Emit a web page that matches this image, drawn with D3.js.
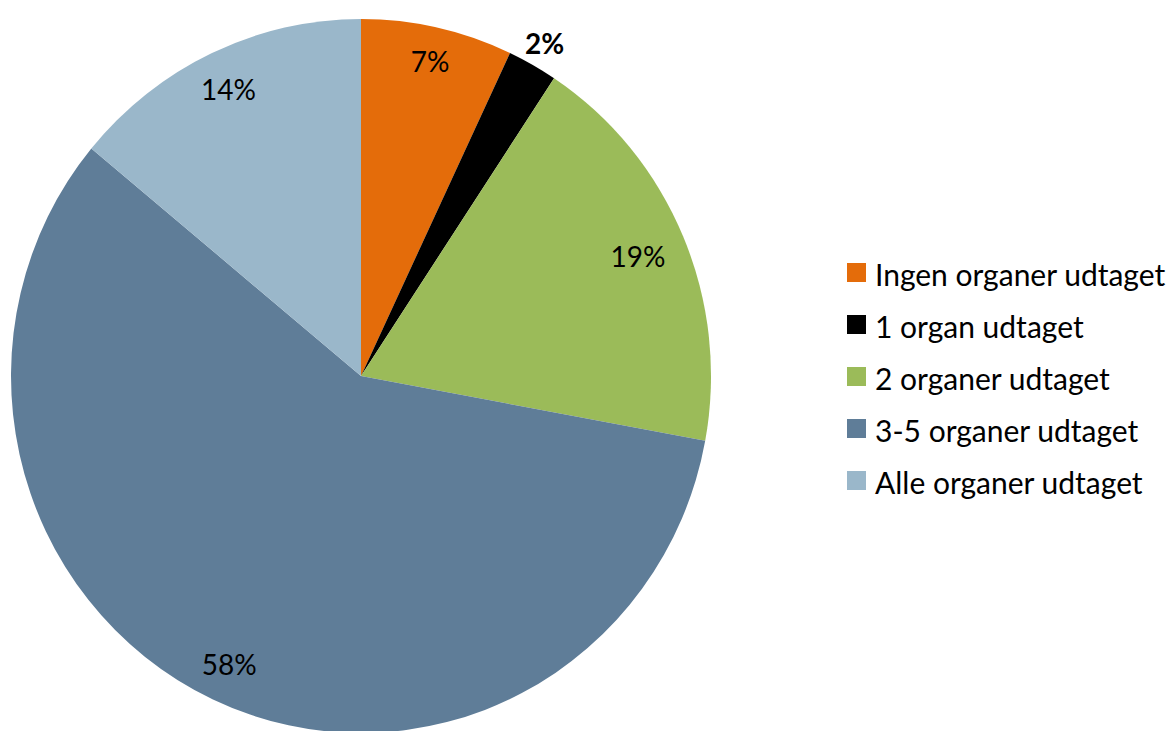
<!DOCTYPE html>
<html><head><meta charset="utf-8">
<script src="https://cdn.jsdelivr.net/npm/d3@7/dist/d3.min.js"></script>
<style>body{margin:0;background:#fff}svg{display:block}</style>
</head><body>
<script>
const categories = ["Ingen organer udtaget","1 organ udtaget","2 organer udtaget","3-5 organer udtaget","Alle organer udtaget"];
const values = [7.0, 2.3, 18.6, 58.1, 14.0];
const labels = ["7%","2%","19%","58%","14%"];
const colors = ["#E46C0A","#000000","#9BBB59","#5F7D98","#9AB7CA"];

const W = 1174, H = 731;
const svg = d3.select("body").append("svg").attr("width", W).attr("height", H);
const rx = 350, ry = 357;
const g = svg.append("g").attr("transform", `translate(361,376) scale(1,${ry/rx})`);
const pie = d3.pie().sort(null).value(d => d)(values);
const arc = d3.arc().innerRadius(0).outerRadius(rx);
g.selectAll("path").data(pie).join("path").attr("d", arc).attr("fill", (d,i) => colors[i]);

// label radius factors (fraction of pie radius) per slice
const factors = [0.905, 1.07, 0.86, 0.89, 0.89];
const lg = svg.append("g").attr("transform", "translate(361,376)");
lg.selectAll("text").data(pie).join("text")
  .attr("transform", (d,i) => {
    const a = (d.startAngle + d.endAngle)/2;
    const r = rx*factors[i];
    return `translate(${Math.sin(a)*r},${-Math.cos(a)*r*ry/rx})`;
  })
  .attr("text-anchor","middle").attr("dominant-baseline","central")
  .attr("font-family","Lato, 'Open Sans', sans-serif").attr("font-size",28)
  .attr("font-weight",(d,i)=> i===1 ? 700 : 400)
  .attr("fill","#000").text((d,i) => labels[i]);

const leg = svg.append("g").attr("transform","translate(847,273)");
const rows = leg.selectAll("g").data(categories).join("g").attr("transform",(d,i)=>`translate(0,${i*52})`);
rows.append("rect").attr("x",0).attr("y",-10).attr("width",19).attr("height",19).attr("fill",(d,i)=>colors[i]);
rows.append("text").attr("x",28).attr("y",1).attr("dominant-baseline","central")
  .attr("font-family","Lato, 'Open Sans', sans-serif").attr("font-size",30).attr("fill","#000").text(d=>d);
</script>
</body></html>
